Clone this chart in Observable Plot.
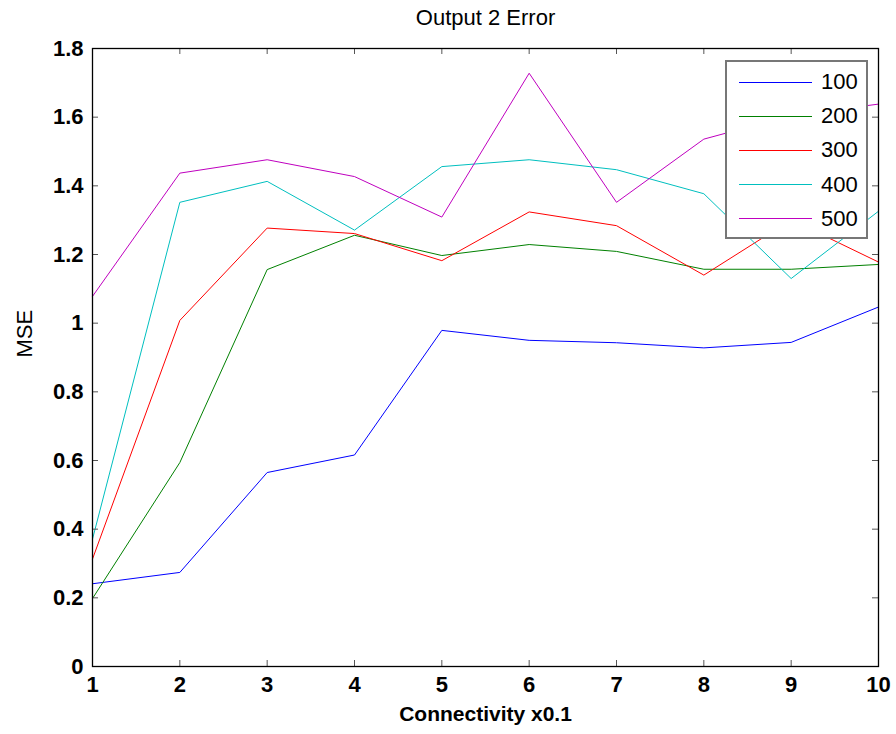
<!DOCTYPE html>
<html>
<head>
<meta charset="utf-8">
<script src="https://cdn.jsdelivr.net/npm/d3@7"></script>
<script src="https://cdn.jsdelivr.net/npm/@observablehq/plot@0.6"></script>
<style>
  html, body { margin: 0; padding: 0; background: #fff; }
  #wrap { position: relative; width: 896px; height: 734px; font-family: "Liberation Sans", Arial, sans-serif; }
  #legend { position: absolute; left: 725px; top: 60px; width: 139px; height: 175px;
    border: 2px solid #777; background: #fff; box-sizing: content-box; }
  .row { position: absolute; left: 12px; height: 34px; display: flex; align-items: center; }
  .sw { width: 73px; height: 0; border-top: 1.2px solid; margin-right: 9px; }
  .lab { font-size: 22px; color: #000; }
</style>
</head>
<body>
<div id="wrap"></div>
<script>
const connectivity = [1, 2, 3, 4, 5, 6, 7, 8, 9, 10];
const seriesNames = ["100", "200", "300", "400", "500"];
const seriesColors = ["#0000ff", "#008000", "#ff0000", "#00bfbf", "#bf00bf"];
const mse100 = [0.241, 0.274, 0.565, 0.616, 0.979, 0.950, 0.943, 0.928, 0.944, 1.047];
const mse200 = [0.198, 0.594, 1.156, 1.256, 1.197, 1.229, 1.209, 1.157, 1.157, 1.171];
const mse300 = [0.313, 1.008, 1.277, 1.261, 1.182, 1.324, 1.284, 1.140, 1.301, 1.178];
const mse400 = [0.371, 1.352, 1.413, 1.271, 1.456, 1.476, 1.447, 1.377, 1.130, 1.326];
const mse500 = [1.078, 1.437, 1.476, 1.427, 1.309, 1.728, 1.352, 1.536, 1.605, 1.638];
const xTicks = [1, 2, 3, 4, 5, 6, 7, 8, 9, 10];
const yTicks = [0, 0.2, 0.4, 0.6, 0.8, 1, 1.2, 1.4, 1.6, 1.8];
const yTickLabels = ["0", "0.2", "0.4", "0.6", "0.8", "1", "1.2", "1.4", "1.6", "1.8"];

const allSeries = [mse100, mse200, mse300, mse400, mse500];
const rows = [];
allSeries.forEach((vals, si) => {
  vals.forEach((v, i) => rows.push({x: connectivity[i], y: v, s: seriesNames[si]}));
});

const W = 896, H = 734, mL = 92, mR = 18, mT = 48, mB = 68;
const frameW = W - mL - mR, frameH = H - mT - mB, tickLen = 6;
const font = "Liberation Sans, Arial, sans-serif";
const plot = Plot.plot({
  width: W,
  height: H,
  marginLeft: mL,
  marginRight: mR,
  marginTop: mT,
  marginBottom: mB,
  style: {fontFamily: font, background: "#fff", overflow: "visible"},
  x: {domain: [1, 10]},
  y: {domain: [0, 1.8]},
  color: {domain: seriesNames, range: seriesColors},
  marks: [
    Plot.line(rows, {x: "x", y: "y", z: "s", stroke: "s", strokeWidth: 1}),
    // inward ticks on all four sides
    Plot.tickX(xTicks, {x: d => d, insetTop: frameH - tickLen, stroke: "#555"}),
    Plot.tickX(xTicks, {x: d => d, insetBottom: frameH - tickLen, stroke: "#555"}),
    Plot.tickY(yTicks, {y: d => d, insetRight: frameW - tickLen, stroke: "#555"}),
    Plot.tickY(yTicks, {y: d => d, insetLeft: frameW - tickLen, stroke: "#555"}),
    // tick labels
    Plot.axisX({anchor: "bottom", ticks: xTicks, tickSize: 0, tickPadding: 10, label: null,
      fontSize: 22, fontWeight: "bold", fill: "#000", tickFormat: d => String(d)}),
    Plot.axisY({anchor: "left", ticks: yTicks, tickSize: 0, tickPadding: 9, label: null,
      fontSize: 22, fontWeight: "bold", fill: "#000", tickFormat: d => yTickLabels[yTicks.indexOf(d)]}),
    Plot.frame({stroke: "#000", strokeWidth: 1.3}),
    // titles
    Plot.text(["Output 2 Error"], {frameAnchor: "top", dy: -39, fontSize: 22, fill: "#000", text: d => d}),
    Plot.text(["Connectivity x0.1"], {frameAnchor: "bottom", dy: 54, fontSize: 21, fontWeight: "bold", fill: "#000", text: d => d}),
    Plot.text(["MSE"], {frameAnchor: "left", dx: -68, rotate: -90, fontSize: 22, fill: "#000", text: d => d})
  ]
});

const wrap = document.getElementById("wrap");
wrap.appendChild(plot);

const legend = document.createElement("div");
legend.id = "legend";
seriesNames.forEach((name, i) => {
  const r = document.createElement("div");
  r.className = "row";
  r.style.top = (3 + i * 34.2) + "px";
  const sw = document.createElement("span");
  sw.className = "sw";
  sw.style.borderTopColor = seriesColors[i];
  const lab = document.createElement("span");
  lab.className = "lab";
  lab.textContent = name;
  r.appendChild(sw);
  r.appendChild(lab);
  legend.appendChild(r);
});
wrap.appendChild(legend);
</script>
</body>
</html>
